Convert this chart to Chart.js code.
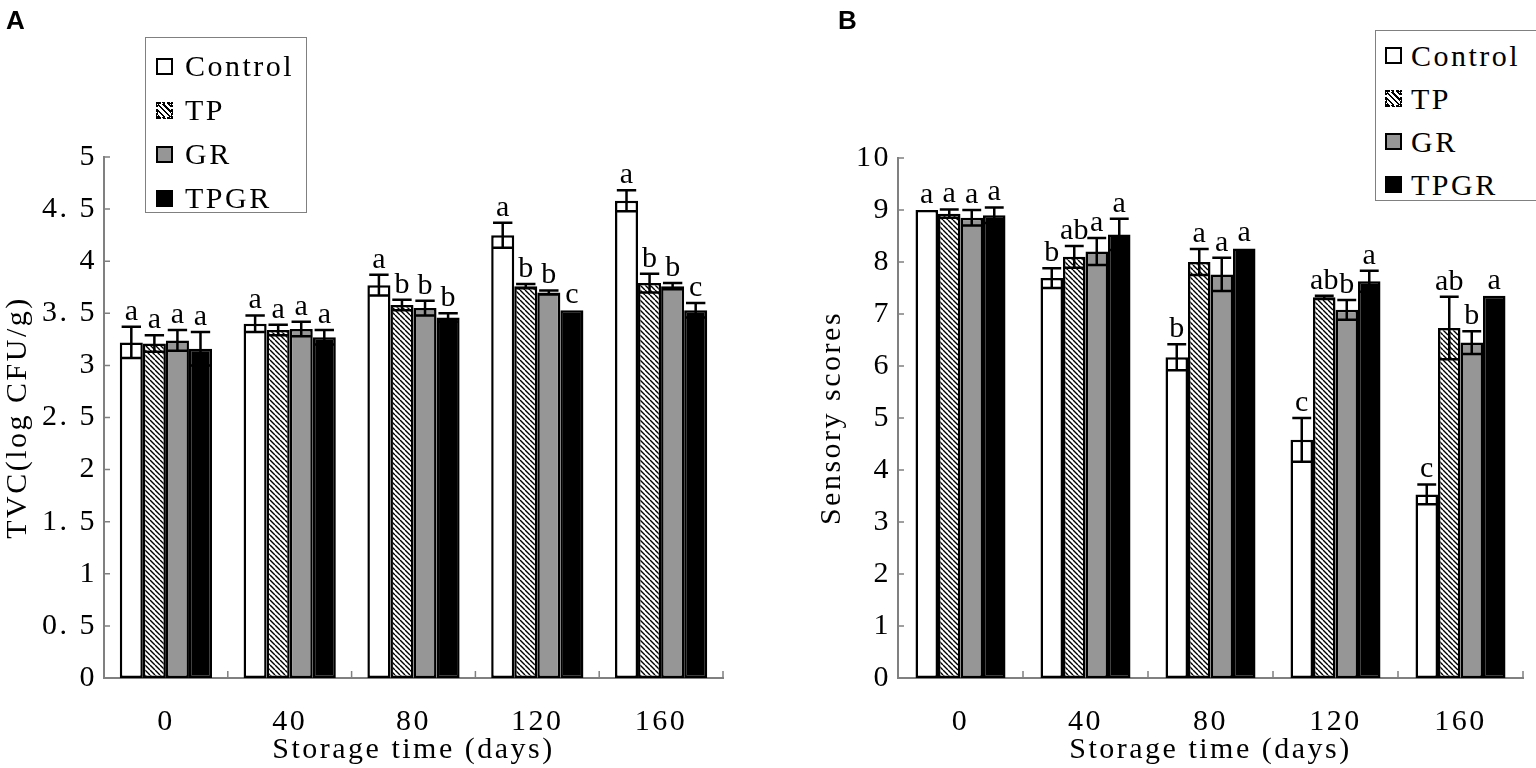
<!DOCTYPE html>
<html>
<head>
<meta charset="utf-8">
<script src="https://cdn.jsdelivr.net/npm/chart.js@4.4.1/dist/chart.umd.min.js"></script>
<style>
  body { margin: 0; background: #fff; width: 1536px; height: 768px; overflow: hidden; position: relative; font-family: 'Liberation Serif', serif; }
  .panel { position: absolute; top: 0; width: 768px; height: 768px; }
  #panelA { left: 0; }
  #panelB { left: 768px; }
  .tag { position: absolute; top: 5px; font: bold 26px 'Liberation Sans', Arial, sans-serif; color: #000; }
  .legend { position: absolute; border: 1.5px solid #808080; background: #fff; box-sizing: border-box; }
  .legend .row { display: flex; align-items: center; font-size: 30px; letter-spacing: 2.5px; color: #000; }
  .sw { width: 17px; height: 17px; box-sizing: border-box; border: 2.5px solid #000; }
  .sw.ctrl { background: #fff; }
  .sw.tp { background: repeating-linear-gradient(45deg, #000 0 1.5px, #fff 1.5px 4px); border: 2.5px dotted #000; }
  .sw.gr { background: #969696; }
  .sw.tpgr { background: #000; }
</style>
</head>
<body>
<div class="panel" id="panelA"><canvas id="chartA" width="768" height="768"></canvas></div>
<div class="panel" id="panelB"><canvas id="chartB" width="768" height="768"></canvas></div>
<div class="tag" style="left:6px">A</div>
<div class="tag" style="left:838px">B</div>

<div class="legend" id="legendA" style="left:145px; top:37px; width:162px; height:176px; padding-top:6px;"></div>
<div class="legend" id="legendB" style="left:1375px; top:30px; width:175px; height:171px; padding-top:3px;"></div>

<script>
// categories
const days = ['0', '40', '80', '120', '160'];
const seriesNames = ['Control', 'TP', 'GR', 'TPGR'];

// A: total viable count
const tvcTickLabels = ['0', '0. 5', '1', '1. 5', '2', '2. 5', '3', '3. 5', '4', '4. 5', '5'];
const tvcControl = [3.22, 3.40, 3.77, 4.25, 4.58];
const tvcTP = [3.21, 3.34, 3.58, 3.76, 3.79];
const tvcGR = [3.24, 3.35, 3.55, 3.70, 3.76];
const tvcTPGR = [3.16, 3.27, 3.46, 3.53, 3.53];
const tvcControlErr = [0.15, 0.08, 0.10, 0.12, 0.10];
const tvcTPErr = [0.08, 0.05, 0.05, 0.02, 0.09];
const tvcGRErr = [0.10, 0.07, 0.07, 0.02, 0.03];
const tvcTPGRErr = [0.16, 0.07, 0.04, 0, 0.07];
const tvcControlSig = ['a', 'a', 'a', 'a', 'a'];
const tvcTPSig = ['a', 'a', 'b', 'b', 'b'];
const tvcGRSig = ['a', 'a', 'b', 'b', 'b'];
const tvcTPGRSig = ['a', 'a', 'b', 'c', 'c'];

// B: sensory scores
const senTickLabels = ['0', '1', '2', '3', '4', '5', '6', '7', '8', '9', '10'];
const senControl = [9.0, 7.69, 6.17, 4.58, 3.53];
const senTP = [8.93, 8.10, 8.00, 7.32, 6.73];
const senGR = [8.85, 8.20, 7.76, 7.08, 6.45];
const senTPGR = [8.90, 8.53, 8.26, 7.63, 7.35];
const senControlErr = [0, 0.19, 0.25, 0.42, 0.19];
const senTPErr = [0.08, 0.21, 0.25, 0.03, 0.60];
const senGRErr = [0.15, 0.26, 0.32, 0.19, 0.22];
const senTPGRErr = [0.15, 0.30, 0, 0.20, 0];
const senControlSig = ['a', 'b', 'b', 'c', 'c'];
const senTPSig = ['a', 'ab', 'a', 'ab', 'ab'];
const senGRSig = ['a', 'a', 'a', 'b', 'b'];
const senTPGRSig = ['a', 'a', 'a', 'a', 'a'];

const FONT = { family: "'Liberation Serif', serif", size: 30 };
const AXIS_GREY = '#808080';

// diagonal hatch for TP bars
function hatchPattern() {
    const s = 5;
    const c = document.createElement('canvas');
    c.width = s; c.height = s;
    const g = c.getContext('2d');
    g.fillStyle = '#fff';
    g.fillRect(0, 0, s, s);
    g.strokeStyle = '#000';
    g.lineWidth = 1.4;
    g.beginPath();
    [-s, 0, s].forEach(k => { g.moveTo(k, 0); g.lineTo(k + s, s); });
    g.stroke();
    return g.createPattern(c, 'repeat');
}

const fills = ['#ffffff', hatchPattern(), '#969696', '#000000'];

const spacingPlugin = {
    id: 'spacing',
    beforeUpdate(chart) { chart.ctx.letterSpacing = '2.5px'; },
    beforeDraw(chart) { chart.ctx.letterSpacing = '2.5px'; }
};

// error bars + significance letters, all placed through the y scale
const errorBarsPlugin = {
    id: 'errorBars',
    afterDatasetsDraw(chart) {
        const ctx = chart.ctx;
        const y = chart.scales.y;
        ctx.save();
        chart.data.datasets.forEach((ds, di) => {
            const meta = chart.getDatasetMeta(di);
            meta.data.forEach((bar, i) => {
                const v = ds.data[i], e = ds.errors[i];
                const top = y.getPixelForValue(v + e);
                const bot = y.getPixelForValue(v - e);
                const half = bar.width * 0.42;
                if (e > 0) {
                    ctx.strokeStyle = '#000';
                    ctx.lineWidth = 2.5;
                    ctx.beginPath();
                    ctx.moveTo(bar.x, top); ctx.lineTo(bar.x, bot);
                    ctx.moveTo(bar.x - half, top); ctx.lineTo(bar.x + half, top);
                    ctx.moveTo(bar.x - half, bot); ctx.lineTo(bar.x + half, bot);
                    ctx.stroke();
                }
                ctx.fillStyle = '#000';
                ctx.font = `${FONT.size}px ${FONT.family}`;
                ctx.letterSpacing = '0px';
                ctx.textAlign = 'center';
                ctx.textBaseline = 'bottom';
                ctx.fillText(ds.letters[i], bar.x, Math.min(top, bar.y));
            });
        });
        ctx.restore();
    }
};

// small inward tick marks like the original
const innerTicksPlugin = {
    id: 'innerTicks',
    afterDraw(chart) {
        const { ctx, chartArea, scales: { x, y } } = chart;
        ctx.save();
        ctx.strokeStyle = AXIS_GREY;
        ctx.lineWidth = 1.5;
        ctx.beginPath();
        y.ticks.forEach(t => {
            const py = y.getPixelForValue(t.value);
            ctx.moveTo(chartArea.left, py);
            ctx.lineTo(chartArea.left + 6, py);
        });
        for (let i = 0; i < days.length; i++) {
            const px = i < days.length - 1
                ? (x.getPixelForValue(i) + x.getPixelForValue(i + 1)) / 2
                : chartArea.right;
            ctx.moveTo(px, chartArea.bottom);
            ctx.lineTo(px, chartArea.bottom - 7);
        }
        ctx.stroke();
        ctx.restore();
    }
};

function buildChart(id, values, errors, letters, yMax, yStep, tickLabels, yTitle, layout) {
    const ctx = document.getElementById(id).getContext('2d');
    const datasets = values.map((v, i) => ({
        label: seriesNames[i],
        data: v,
        errors: errors[i],
        letters: letters[i],
        backgroundColor: fills[i],
        borderColor: '#000',
        borderWidth: 2.5,
        borderSkipped: false,
        barPercentage: 1,
        categoryPercentage: layout.catPct
    }));
    return new Chart(ctx, {
        type: 'bar',
        data: { labels: days, datasets: datasets },
        options: {
            responsive: false,
            animation: false,
            layout: { padding: { left: layout.left, right: layout.right, top: layout.top, bottom: 0 } },
            plugins: { legend: { display: false }, tooltip: { enabled: false } },
            scales: {
                x: {
                    grid: { display: false, drawTicks: false },
                    border: { display: true, color: AXIS_GREY, width: 2 },
                    ticks: { color: '#000', font: FONT, padding: 26, maxRotation: 0 },
                    title: { display: true, text: 'Storage time (days)', color: '#000', font: FONT, padding: 0 },
                    afterFit(s) { s.height = 90; }
                },
                y: {
                    min: 0,
                    max: yMax,
                    grid: { display: false, drawTicks: false },
                    border: { display: true, color: AXIS_GREY, width: 2 },
                    ticks: {
                        stepSize: yStep,
                        color: '#000',
                        font: FONT,
                        padding: 7,
                        callback: (val, i) => tickLabels[i]
                    },
                    title: { display: true, text: yTitle, color: '#000', font: FONT, padding: 0 },
                    afterFit(s) { s.width = layout.axisW; }
                }
            }
        },
        plugins: [spacingPlugin, errorBarsPlugin, innerTicksPlugin]
    });
}

function buildLegend(id, rowH, swLeft, gap) {
    const el = document.getElementById(id);
    const cls = ['ctrl', 'tp', 'gr', 'tpgr'];
    seriesNames.forEach((name, i) => {
        const row = document.createElement('div');
        row.className = 'row';
        row.style.height = rowH + 'px';
        row.style.paddingLeft = swLeft + 'px';
        row.innerHTML = `<span class="sw ${cls[i]}" style="margin-right:${gap}px"></span><span>${name}</span>`;
        el.appendChild(row);
    });
}

buildChart('chartA',
    [tvcControl, tvcTP, tvcGR, tvcTPGR],
    [tvcControlErr, tvcTPErr, tvcGRErr, tvcTPGRErr],
    [tvcControlSig, tvcTPSig, tvcGRSig, tvcTPGRSig],
    5, 0.5, tvcTickLabels, 'TVC(log CFU/g)',
    { left: 0, right: 45, top: 157, axisW: 104, catPct: 0.745 });

buildChart('chartB',
    [senControl, senTP, senGR, senTPGR],
    [senControlErr, senTPErr, senGRErr, senTPGRErr],
    [senControlSig, senTPSig, senGRSig, senTPGRSig],
    10, 1, senTickLabels, 'Sensory scores',
    { left: 46, right: 13, top: 158, axisW: 84, catPct: 0.72 });

buildLegend('legendA', 44, 10, 12);
buildLegend('legendB', 43, 9, 9);
</script>
</body>
</html>
